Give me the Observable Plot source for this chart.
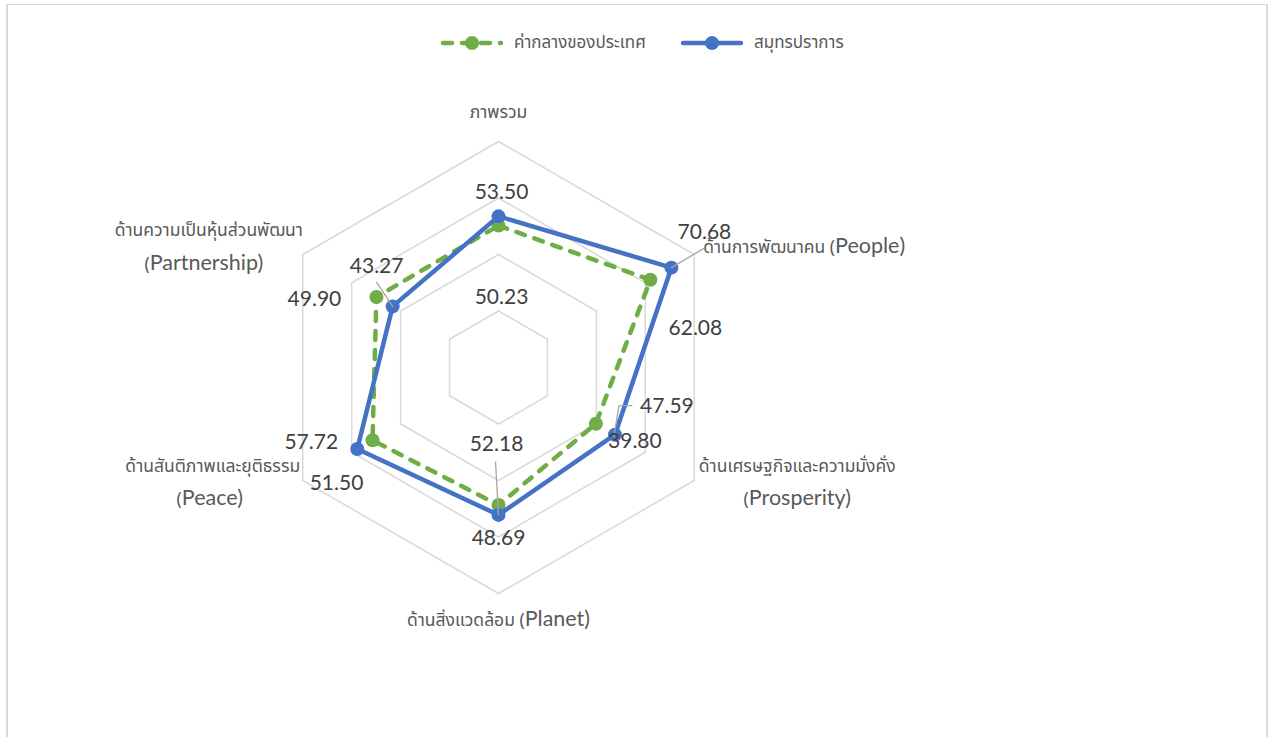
<!DOCTYPE html>
<html><head><meta charset="utf-8">
<script src="https://cdn.jsdelivr.net/npm/d3@7"></script>
<script src="https://cdn.jsdelivr.net/npm/@observablehq/plot@0.6"></script>
<style>
body{margin:0;background:#fff;width:1271px;height:737px;overflow:hidden;position:relative;font-family:"Noto Sans Thai","Leelawadee UI",Tahoma,"Noto Sans",sans-serif;}
#frame{position:absolute;left:6px;top:4px;width:1262px;height:780px;border-left:2px solid #d9d9d9;border-right:2px solid #d9d9d9;border-top:1.5px solid #d9d9d9;box-sizing:border-box;}
#legend{position:absolute;top:30px;left:0;width:1271px;height:26px;}
.item{position:absolute;top:0;height:26px;display:flex;align-items:center;font-size:17px;color:#595959;}
.item svg{margin-right:10px}
#chart{position:absolute;top:70px;left:0;}
</style></head>
<body>
<div id="frame"></div>
<div id="legend"></div>
<div id="chart"></div>
<script>
// ---- data ----
const categories = [
  "ภาพรวม",
  "ด้านการพัฒนาคน (People)",
  "ด้านเศรษฐกิจและความมั่งคั่ง\n(Prosperity)",
  "ด้านสิ่งแวดล้อม (Planet)",
  "ด้านสันติภาพและยุติธรรม\n(Peace)",
  "ด้านความเป็นหุ้นส่วนพัฒนา\n(Partnership)"
];
const seriesNames = ["ค่ากลางของประเทศ", "สมุทรปราการ"];
const nationalValues = [50.23, 62.08, 39.80, 48.69, 51.50, 49.90];
const samutPrakanValues = [53.50, 70.68, 47.59, 52.18, 57.72, 43.27];
const ringValues = [20, 40, 60, 80];
const axisMax = 80;

// ---- styles ----
const GREEN = "#70AD47", BLUE = "#4472C4", GRID = "#D9D9D9";
const R_PX = 226;                 // pixel radius of outer ring
const K = R_PX / axisMax;         // px per unit
const CX = 498, CY = 297;         // centre in svg px
const W = 1271, H = 610;
const THAI_SIZE = 17.5, LATIN_SIZE = 21.5;
// label offsets (px) relative to each point
const greenLabelOffsets = [[3,72],[45,48],[39,18],[0,33],[-36,43],[-62,2]];
const blueLabelOffsets  = [[3,-24],[33,-35],[52,-28],[-2,-71],[-46,-7],[-16,-40]];
const blueLeaders = {1: [[0,0],[32,-19]], 2: [[-1,2],[4,-29],[17,-29]], 3: [[0,0],[-3,-53]], 5: [[0,0],[-16,-24]]};
// category label offsets (px) from outer vertex: [dx, dy, anchor] per line
const catOffsets = [
  [[0,-29,"middle"]],
  [[9,-7,"start"]],
  [[103,-14,"middle"],[103,19,"middle"]],
  [[0,27,"middle"]],
  [[-90,-14,"middle"],[-93,19,"middle"]],
  [[-94,-24,"middle"],[-99,10,"middle"]]
];

const ang = i => i * Math.PI / 3;
const px = (r, i) => r * Math.sin(ang(i));
const py = (r, i) => r * Math.cos(ang(i));

// grid rings
const gridPts = ringValues.flatMap(r => d3.range(7).map(i => ({ring: r, x: px(r, i % 6), y: py(r, i % 6)})));

function seriesPts(vals) {
  return d3.range(7).map(k => { const i = k % 6; return {i, v: vals[i], x: px(vals[i], i), y: py(vals[i], i)}; });
}
const greenPts = seriesPts(nationalValues);
const bluePts = seriesPts(samutPrakanValues);

function labelData(vals, offs) {
  return vals.map((v, i) => ({
    text: v.toFixed(2),
    x: px(v, i) + offs[i][0] / K,
    y: py(v, i) - offs[i][1] / K
  }));
}
const greenLabels = labelData(nationalValues, greenLabelOffsets);
const blueLabels = labelData(samutPrakanValues, blueLabelOffsets);

const leaderPts = Object.entries(blueLeaders).flatMap(([i, seg]) => seg.map(([dx, dy]) => ({
  id: +i, x: px(samutPrakanValues[+i], +i) + dx / K, y: py(samutPrakanValues[+i], +i) - dy / K
})));

const catLabels = categories.flatMap((c, i) => {
  const lines = c.split("\n");
  return lines.map((t, j) => ({
    text: t, anchor: catOffsets[i][j][2],
    x: px(axisMax, i) + catOffsets[i][j][0] / K,
    y: py(axisMax, i) - catOffsets[i][j][1] / K
  }));
});

const thaiFont = '"Noto Sans Thai","Leelawadee UI",Tahoma,"Noto Sans",sans-serif';
const numFont = 'Lato,"Noto Sans",sans-serif';

const chart = Plot.plot({
  width: W, height: H,
  margin: 0,
  x: {domain: [-axisMax, axisMax], range: [CX - R_PX, CX + R_PX], axis: null},
  y: {domain: [-axisMax, axisMax], range: [CY + R_PX, CY - R_PX], axis: null},
  style: {background: "transparent", overflow: "visible"},
  marks: [
    Plot.line(gridPts, {x: "x", y: "y", z: "ring", stroke: GRID, strokeWidth: 1.5}),
    Plot.line(greenPts, {x: "x", y: "y", stroke: GREEN, strokeWidth: 4.5, strokeDasharray: "9,10", strokeLinecap: "round", strokeLinejoin: "round"}),
    Plot.dot(greenPts.slice(0, 6), {x: "x", y: "y", r: 7, fill: GREEN}),
    Plot.line(bluePts, {x: "x", y: "y", stroke: BLUE, strokeWidth: 4.5, strokeLinejoin: "round"}),
    Plot.dot(bluePts.slice(0, 6), {x: "x", y: "y", r: 7, fill: BLUE}),
    Plot.line(leaderPts, {x: "x", y: "y", z: "id", stroke: "#A6A6A6", strokeWidth: 1.3}),
    Plot.text(greenLabels, {x: "x", y: "y", text: "text", fontSize: 21, fill: "#404040", fontFamily: numFont, lineAnchor: "middle", textAnchor: "middle"}),
    Plot.text(blueLabels, {x: "x", y: "y", text: "text", fontSize: 21, fill: "#404040", fontFamily: numFont, lineAnchor: "middle", textAnchor: "middle"}),
    ...["start", "middle"].map(a => Plot.text(catLabels.filter(d => d.anchor === a), {x: "x", y: "y", text: "text", textAnchor: a, lineAnchor: "middle", fontSize: THAI_SIZE, fill: "#595959", fontFamily: thaiFont}))
  ]
});
document.getElementById("chart").appendChild(chart);

// mixed font sizes inside category labels: Thai part small, Latin part larger
d3.select(chart).selectAll("text").each(function() {
  const t = this.textContent;
  const k = t.indexOf("(");
  if (k < 0) return;
  const sel = d3.select(this);
  sel.text(null);
  sel.append("tspan").attr("font-size", THAI_SIZE).attr("font-family", thaiFont).text(t.slice(0, k + 1));
  sel.append("tspan").attr("font-size", LATIN_SIZE).attr("font-family", numFont).text(t.slice(k + 1));
});

// legend
const legend = d3.select("#legend");
const legendItems = [
  {name: seriesNames[0], color: GREEN, dash: "9,10", left: 440},
  {name: seriesNames[1], color: BLUE, dash: null, left: 680}
];
legendItems.forEach(it => {
  const div = legend.append("div").attr("class", "item").style("left", it.left + "px");
  const s = div.append("svg").attr("width", 64).attr("height", 20);
  s.append("line").attr("x1", 3).attr("x2", 61).attr("y1", 10).attr("y2", 10)
    .attr("stroke", it.color).attr("stroke-width", 4.5).attr("stroke-linecap", "round")
    .attr("stroke-dasharray", it.dash);
  s.append("circle").attr("cx", 32).attr("cy", 10).attr("r", 7).attr("fill", it.color);
  div.append("span").text(it.name);
});
</script>
</body></html>
